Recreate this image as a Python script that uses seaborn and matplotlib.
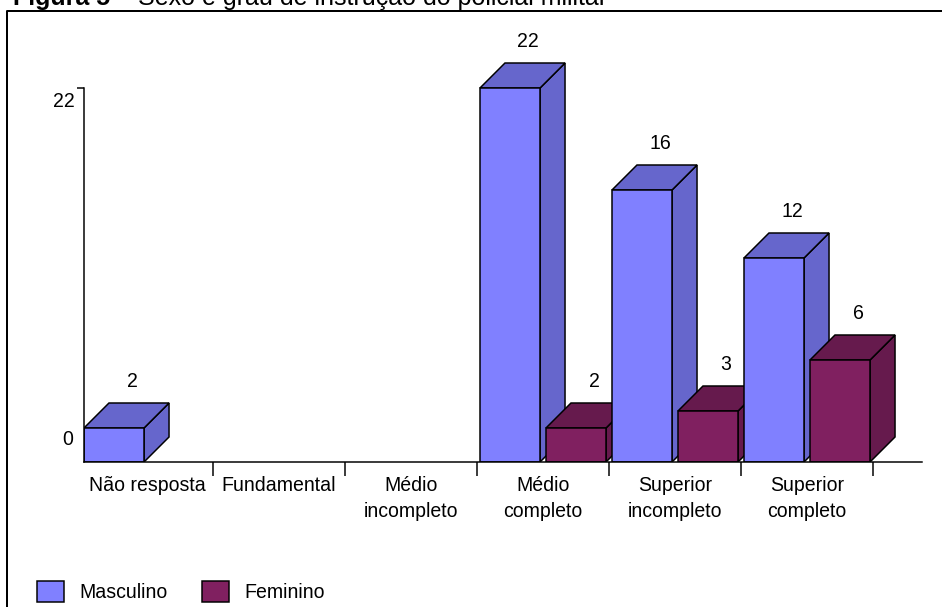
import numpy as np
import pandas as pd
import matplotlib
matplotlib.use("Agg")
import matplotlib.pyplot as plt
from matplotlib.patches import Polygon, Patch
from matplotlib.lines import Line2D
import seaborn as sns

# data
categories = ["Não resposta", "Fundamental", "Médio\nincompleto",
              "Médio\ncompleto", "Superior\nincompleto", "Superior\ncompleto"]
sexes = ["Masculino", "Feminino"]
masculino = [2, 0, 0, 22, 16, 12]
feminino = [0, 0, 0, 2, 3, 6]
y_ticks = [0, 22]

front_colors = ["#8080FF", "#802060"]
side_colors = ["#6666CC", "#661A4D"]

df = pd.DataFrame({
    "Escolaridade": categories * 2,
    "Sexo": [sexes[0]] * len(categories) + [sexes[1]] * len(categories),
    "Quantidade": masculino + feminino,
})

sns.set_style("white")
plt.rcParams["font.family"] = ["Liberation Sans", "DejaVu Sans"]
plt.rcParams["text.color"] = "black"
plt.rcParams["xtick.color"] = "black"
plt.rcParams["ytick.color"] = "black"

W, H, DPI = 942, 607, 72
AX_L, AX_R, AX_T, AX_B = 84, 922, 30, 462   # pixels
CAT0, STEP, PX_Y = 147, 132, 17.0          # category centre, spacing, px per unit
DEPTH = 25                                  # 3d depth in pixels
FS = 19.5

fig = plt.figure(figsize=(W / DPI, H / DPI), dpi=DPI)
ax = fig.add_axes([AX_L / W, (H - AX_B) / H, (AX_R - AX_L) / W, (AX_B - AX_T) / H])

sns.barplot(data=df, x="Escolaridade", y="Quantidade", hue="Sexo",
            order=categories, hue_order=sexes, palette=front_colors,
            width=1.0, gap=0.09, errorbar=None, edgecolor="black",
            linewidth=1.5, saturation=1, legend=False, ax=ax)

ax.set_xlim((AX_L - CAT0) / STEP, (AX_R - CAT0) / STEP)
ax.set_ylim(0, (AX_B - AX_T) / PX_Y)
dx, dy = DEPTH / STEP, DEPTH / PX_Y

# fake 3d: side + top faces, later bars drawn in front of earlier ones
for h_i, cont in enumerate(ax.containers):
    for c_i, bar in enumerate(cont.patches):
        h = bar.get_height()
        z = 2 + (c_i * 2 + h_i) * 0.01
        if h <= 0:
            bar.set_visible(False)
            continue
        bar.set_zorder(z)
        x0, w = bar.get_x(), bar.get_width()
        x1 = x0 + w
        side = Polygon([(x1, 0), (x1 + dx, dy), (x1 + dx, h + dy), (x1, h)],
                       closed=True, facecolor=side_colors[h_i], edgecolor="black",
                       linewidth=1.5, joinstyle="miter", zorder=z - 0.005)
        top = Polygon([(x0, h), (x0 + dx, h + dy), (x1 + dx, h + dy), (x1, h)],
                      closed=True, facecolor=side_colors[h_i], edgecolor="black",
                      linewidth=1.5, joinstyle="miter", zorder=z - 0.005)
        ax.add_patch(side)
        ax.add_patch(top)
        ax.annotate(f"{h:g}", (x0 + w / 2, h), xytext=(18, DEPTH + 12),
                    textcoords="offset points", ha="center", va="bottom",
                    fontsize=FS, color="black", zorder=5)

# axes styling
for s in ["top", "right"]:
    ax.spines[s].set_visible(False)
for s in ["left", "bottom"]:
    ax.spines[s].set_linewidth(1.5)
    ax.spines[s].set_color("black")
    ax.spines[s].set_zorder(10)
ax.spines["left"].set_bounds(y_ticks[0], y_ticks[-1])

ax.set_yticks([y_ticks[-1]])
ax.set_yticklabels([""])
ax.tick_params(axis="y", left=True, length=7, width=1.5, color="black")
ax.annotate(str(y_ticks[-1]), (0, y_ticks[-1]), xycoords=("axes fraction", "data"),
            xytext=(-9, -4), textcoords="offset points", ha="right", va="top",
            fontsize=FS)
ax.annotate(str(y_ticks[0]), (0, y_ticks[0]), xycoords=("axes fraction", "data"),
            xytext=(-11, 13), textcoords="offset points", ha="right", va="bottom",
            fontsize=FS)

ax.set_xticks(np.arange(len(categories)))
ax.set_xticklabels(categories, fontsize=FS, linespacing=1.45, color="black")
ax.set_xticks(np.arange(len(categories)) + 0.5, minor=True)
ax.tick_params(axis="x", which="major", bottom=True, length=0, pad=14)
ax.tick_params(axis="x", which="minor", bottom=True, length=14, width=1.5,
               color="black")
ax.set_xlabel("")
ax.set_ylabel("")
ax.grid(False)

# legend at the bottom
handles = [Patch(facecolor=c, edgecolor="black", linewidth=1.5) for c in front_colors]
fig.legend(handles, sexes, loc="lower left", ncol=2, frameon=False,
           bbox_to_anchor=(37 / W, 5 / H), fontsize=FS, borderpad=0,
           borderaxespad=0, handlelength=27 / FS, handleheight=25 / FS,
           handletextpad=15 / FS, columnspacing=35 / FS)

# frame around the figure (left and top only)
fig.add_artist(Line2D([7 / W, 7 / W, 1], [0, 1 - 11 / H, 1 - 11 / H],
                      transform=fig.transFigure, color="black", linewidth=2))

# title, partly cut off at the top as in the source scan
t1 = fig.text(13 / W, 1 - 5 / H, "Figura 5", fontsize=25, fontweight="bold",
              ha="left", va="baseline")
fig.canvas.draw()
bb = t1.get_window_extent()
fig.text(bb.x1 / W, 1 - 5 / H, " – Sexo e grau de instrução do policial militar",
         fontsize=25, ha="left", va="baseline")

fig.savefig("out.png", dpi=DPI)
